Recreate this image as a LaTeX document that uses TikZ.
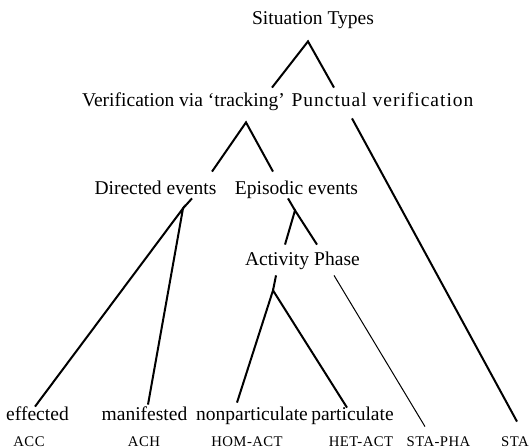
\documentclass[tikz,border=0pt]{standalone}
\usepackage{fontspec}
\setmainfont{Liberation Serif}
\usetikzlibrary{positioning,calc}

\begin{document}
\begin{tikzpicture}[x=0.5bp,y=-0.5bp,font=\fontsize{9.8}{12}\selectfont]
  \tikzstyle{lbl}=[anchor=base,inner sep=0pt,text height=7bp,text depth=2bp]
  \tikzstyle{tag}=[anchor=base,inner sep=0pt,text height=5bp,text depth=0pt,font=\fontsize{7.4}{8}\selectfont\addfontfeature{LetterSpace=3}]
  \tikzstyle{branch}=[line width=1bp]
  \tikzstyle{twig}=[line width=0.5bp]
  \useasboundingbox (0,0) rectangle (529,447);
  \coordinate (c) at (0,0);

  \draw (c)++(313,25) node[lbl] (sit){Situation Types};

  \draw (c)++(183.5,107) node[lbl] (track){Verification via ‘tracking’};
  \draw (c)++(382.5,107) node[lbl] (punct){\addfontfeature{LetterSpace=5}Punctual verification};

  \draw (c)++(155.5,195) node[lbl] (dir){Directed events};
  \draw (c)++(296.5,195) node[lbl] (epi){Episodic events};

  \draw (c)++(277,266) node[lbl] (act){Activity};
  \draw (c)++(337,266) node[lbl] (pha){Phase};

  \draw (c)++(37.5,420) node[lbl] (eff){effected};
  \draw (c)++(144.5,420) node[lbl] (man){manifested};
  \draw (c)++(252,420) node[lbl] (nonp){nonparticulate};
  \draw (c)++(352.5,420) node[lbl] (part){particulate};

  \draw (c)++(29,446) node[tag] (acc){ACC};
  \draw (c)++(144,446) node[tag] (ach){ACH};
  \draw (c)++(247,446) node[tag] (homact){HOM-ACT};
  \draw (c)++(361,446) node[tag] (hetact){HET-ACT};
  \draw (c)++(438.5,446) node[tag] (stapha){STA-PHA};
  \draw (c)++(515,446) node[tag] (sta){STA};

  % forks
  \coordinate (sitfork) at ([shift={(-5,12)}]sit.south);
  \coordinate (trackfork) at ([shift={(62.5,11)}]track.south);
  \coordinate (dirfork) at ([shift={(27.5,9)}]dir.south);
  \coordinate (epifork) at ([shift={(-1.5,11)}]epi.south);
  \coordinate (actfork) at ([shift={(-4,20)}]act.south);

  \draw[branch] ([shift={(88.5,-5)}]track.north) -- (sitfork) -- ([shift={(-48.5,-5)}]punct.north);
  \draw[branch] ([shift={(56.5,-9)}]dir.north) -- (trackfork) -- ([shift={(-23.5,-9)}]epi.north);
  \draw[branch] ([shift={(-30.5,7)}]punct.south) -- ([shift={(2,-14)}]sta.north);
  \draw[branch] ([shift={(36.5,-1)}]dir.south) -- (dirfork);
  \draw[branch] ([shift={(-2.5,1)}]eff.north) -- (dirfork) -- ([shift={(3.5,-1)}]man.north);
  \draw[branch] ([shift={(-8.5,-1)}]epi.south) -- (epifork);
  \draw[branch] ([shift={(8,-7)}]act.north) -- (epifork) -- ([shift={(-20,-7)}]pha.north);
  \draw[branch] ([shift={(-1,5)}]act.south) -- (actfork);
  \draw[branch] ([shift={(-15,-3)}]nonp.north) -- (actfork) -- ([shift={(-5.5,2)}]part.north);
  \draw[twig] ([shift={(-3,5)}]pha.south) -- ([shift={(-13.5,-9)}]stapha.north);
\end{tikzpicture}
\end{document}
